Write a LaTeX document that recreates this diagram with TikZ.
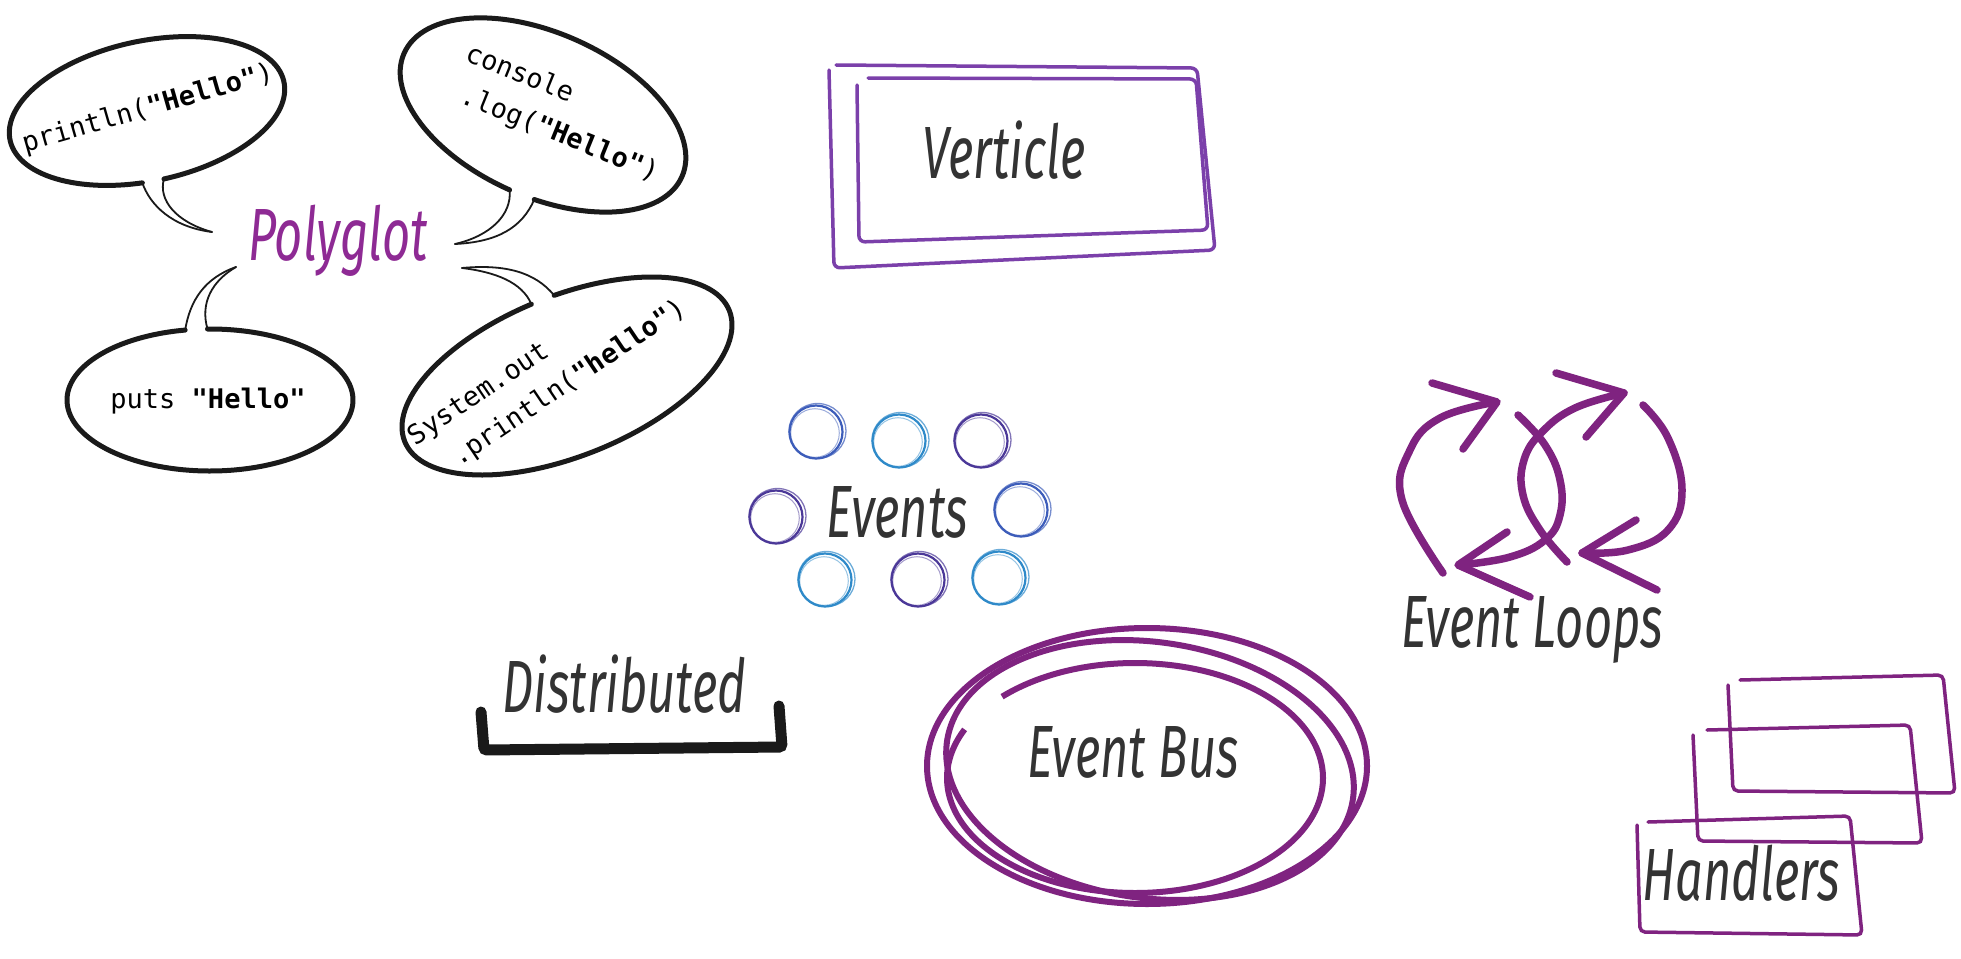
\documentclass[tikz,border=0pt]{standalone}
\usepackage{fontspec}
\newfontfamily\handfont{Fira Sans}
\newfontfamily\codefont{DejaVu Sans Mono}
\definecolor{inkgray}{HTML}{333333}
\definecolor{bubbleblack}{HTML}{1A1A1A}
\definecolor{polyglotpurple}{HTML}{8E2A94}
\definecolor{vertviolet}{HTML}{7B40AA}
\definecolor{buspurple}{HTML}{7F2380}
\definecolor{evblue}{HTML}{3D5DBA}
\definecolor{evlight}{HTML}{2F8AC9}
\definecolor{evindigo}{HTML}{4B3898}
\tikzset{
  bubble/.style={draw=bubbleblack, line width=5pt, line cap=round},
  tailline/.style={draw=bubbleblack, line width=1.8pt, line cap=round},
  codetext/.style={font=\codefont\fontsize{27}{41}\selectfont, text=black, align=left, inner sep=0pt},
  handtext/.style={font=\handfont\itshape\fontsize{74}{74}\selectfont, text=inkgray, xscale=0.66, inner sep=0pt, anchor=base},
  boxstroke/.style={draw=vertviolet, line width=3.5pt, line cap=round, rounded corners=6pt},
  eventring/.style={line width=2.2pt},
  loopstroke/.style={draw=buspurple, line width=7.5pt, line cap=round, line join=round},
  busstroke/.style={draw=buspurple, line width=6pt},
  handlerstroke/.style={draw=buspurple, line width=3.5pt, line cap=round, rounded corners=5pt},
  bracketstroke/.style={draw=bubbleblack, line width=11pt, line cap=round, rounded corners=3pt}
}
\begin{document}
\begin{tikzpicture}[x=1pt, y=-1pt]
  \fill[white] (0,0) rectangle (1961,958);
  \useasboundingbox (0,0) rectangle (1961,958);

  % speech bubbles round Polyglot
  \begin{scope}[shift={(147,111)}, rotate=12]
    \draw[bubble] (98:140 and 70) arc[start angle=98, end angle=449, x radius=140, y radius=70];
    \coordinate (ktL) at (98:140 and 70);
    \coordinate (ktR) at (89:140 and 70);
  \end{scope}
  \coordinate (ktTip) at (212,232);
  \draw[tailline] (ktL) .. controls (150,205) and (172,227) .. (ktTip);
  \draw[tailline] (ktR) .. controls (158,200) and (176,222) .. (ktTip);
  \node[codetext, rotate=16] (kt) at (148,109) {println(\textbf{"Hello"})};

  \begin{scope}[shift={(543,115)}, rotate=-24]
    \draw[bubble] (90:152 and 82) arc[start angle=90, end angle=440, x radius=152, y radius=82];
    \coordinate (jsL) at (90:152 and 82);
    \coordinate (jsR) at (80:152 and 82);
  \end{scope}
  \coordinate (jsTip) at (455,244);
  \draw[tailline] (jsL) .. controls (512,215) and (490,236) .. (jsTip);
  \draw[tailline] (jsR) .. controls (522,228) and (497,242) .. (jsTip);
  \node[codetext, rotate=-22] (js) at (562,114) {console\\\hspace*{0.4em}.log(\textbf{"Hello"})};

  \begin{scope}[shift={(210,400)}]
    \draw[bubble] (269:143 and 71) arc[start angle=269, end angle=620, x radius=143, y radius=71];
    \coordinate (rbL) at (260:143 and 71);
    \coordinate (rbR) at (269:143 and 71);
  \end{scope}
  \coordinate (rbTip) at (236,267);
  \draw[tailline] (rbL) .. controls (190,300) and (205,278) .. (rbTip);
  \draw[tailline] (rbR) .. controls (200,303) and (212,281) .. (rbTip);
  \node[codetext] (rb) at (208,401) {puts \textbf{"Hello"}};

  \begin{scope}[shift={(567,376)}, rotate=22]
    \draw[bubble] (276:175 and 80) arc[start angle=276, end angle=628, x radius=175, y radius=80];
    \coordinate (javaL) at (268:175 and 80);
    \coordinate (javaR) at (276:175 and 80);
  \end{scope}
  \coordinate (javaTip) at (462,268);
  \draw[tailline] (javaL) .. controls (522,282) and (495,272) .. (javaTip);
  \draw[tailline] (javaR) .. controls (535,272) and (505,264) .. (javaTip);
  \node[codetext, rotate=34] (java) at (548,373) {System.out\\\hspace*{0.9em}.println(\textbf{"hello"})};

  \node[handtext, text=polyglotpurple] (polyglot) at (338,260) {Polyglot};

  % Verticle box
  \draw[boxstroke] (836,65) -- (1197,68) -- (1215,250) -- (834,268) -- (829,70);
  \draw[boxstroke] (868,78) -- (1196,79) -- (1208,230) -- (859,242) -- (857,85);
  \node[handtext] (verticle) at (1004,178) {Verticle};

  % events
  \foreach \cx/\cy/\cc in {816/432/evblue, 899/441/evlight, 981/441/evindigo,
      776/517/evindigo, 1021/510/evblue, 825/580/evlight, 918/580/evindigo, 999/578/evlight} {
    \draw[eventring, draw=\cc] (\cx,\cy) circle [radius=26.5];
    \draw[eventring, draw=\cc, line width=1.3pt, opacity=0.7] (\cx+1.5,\cy-1) circle [x radius=28.5, y radius=27.5];
    \draw[eventring, draw=\cc, line width=1pt, opacity=0.5] (\cx-1,\cy+1) circle [radius=24.3];
  }
  \node[handtext] (events) at (897,537) {Events};

  % event loops
  \draw[loopstroke] plot[smooth, tension=0.7] coordinates {(1443,573) (1402,500) (1410,450) (1440,418) (1496,402)};
  \draw[loopstroke] (1432,383) -- (1497,402) -- (1463,449);
  \draw[loopstroke] plot[smooth, tension=0.7] coordinates {(1518,415) (1545,445) (1560,480) (1560,515) (1545,540) (1510,557) (1460,565)};
  \draw[loopstroke] (1507,532) -- (1458,565) -- (1530,597);
  \draw[loopstroke] plot[smooth, tension=0.7] coordinates {(1567,562) (1540,530) (1523,495) (1524,460) (1542,432) (1575,408) (1624,393)};
  \draw[loopstroke] (1556,373) -- (1624,393) -- (1586,437);
  \draw[loopstroke] plot[smooth, tension=0.7] coordinates {(1643,405) (1668,438) (1682,490) (1668,530) (1628,550) (1582,553)};
  \draw[loopstroke] (1636,520) -- (1582,553) -- (1657,590);
  \node[handtext] (loops) at (1532,647) {Event Loops};

  % event bus
  \draw[busstroke] (1147,766) ellipse [x radius=220, y radius=138];
  \draw[busstroke, rotate around={-8:(1150,770)}] (1150,770) ellipse [x radius=205, y radius=128];
  \draw[busstroke] (1135,778) ++(225:188 and 115) arc[start angle=225, end angle=565, x radius=188, y radius=115];
  \node[handtext] (bus) at (1133,777) {Event Bus};

  % distributed
  \draw[bracketstroke] (481,712) -- (484,750) -- (782,747) -- (779,706);
  \node[handtext] (distributed) at (624,712) {Distributed};

  % handlers
  \draw[handlerstroke] (1740,680) -- (1943,675) -- (1955,793) -- (1733,791) -- (1728,685);
  \draw[handlerstroke] (1707,730) -- (1910,725) -- (1922,843) -- (1698,841) -- (1693,735);
  \draw[handlerstroke] (1648,822) -- (1850,816) -- (1862,935) -- (1640,932) -- (1637,825);
  \node[handtext] (handlers) at (1741,900) {Handlers};
\end{tikzpicture}
\end{document}
